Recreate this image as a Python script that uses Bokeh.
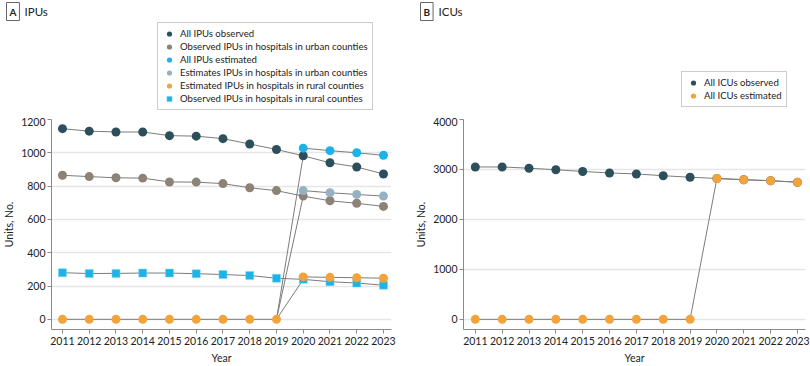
from bokeh.plotting import figure
from bokeh.layouts import row, column
from bokeh.models import Legend, LegendItem, Label, FixedTicker, Range1d
from bokeh.embed import file_html
from bokeh.resources import INLINE

FONT = "Lato"
NAN = float("nan")

years = list(range(2011, 2024))
pre_years = years[:9]
est_years = years[9:]

# Panel A: IPUs
ipu_all_obs = [1145, 1130, 1125, 1125, 1103, 1100, 1085, 1053, 1020, 982, 940, 915, 873]
ipu_urban_obs = [865, 857, 850, 848, 825, 824, 815, 790, 773, 740, 712, 697, 678]
ipu_rural_obs = [280, 275, 276, 278, 278, 274, 269, 263, 247, 240, 226, 218, 205]
ipu_est_pre = [0, 0, 0, 0, 0, 0, 0, 0, 0]
ipu_all_est = [1028, 1013, 1000, 985]
ipu_urban_est = [773, 760, 750, 740]
ipu_rural_est = [255, 252, 250, 247]

# Panel B: ICUs
icu_obs = [3050, 3050, 3025, 2995, 2960, 2930, 2910, 2875, 2845, 2820, 2795, 2775, 2745]
icu_est = [0, 0, 0, 0, 0, 0, 0, 0, 0, 2820, 2795, 2775, 2745]

ipu_ticks = [0, 200, 400, 600, 800, 1000, 1200]
icu_ticks = [0, 1000, 2000, 3000, 4000]

C_DARK = "#2d4f5c"
C_BROWN = "#8d8276"
C_CYAN = "#1cb4e8"
C_GRAYBLUE = "#95b2c3"
C_ORANGE = "#f2a33a"
C_LINE = "#7c7c7c"
C_TEXT = "#222222"

HEAD_H = 117
CHART_H = 366 - HEAD_H


def style(p, ticks):
    p.xaxis.ticker = FixedTicker(ticks=years)
    p.yaxis.ticker = FixedTicker(ticks=ticks)
    p.xgrid.visible = False
    p.ygrid.grid_line_color = "#e6e6e6"
    p.ygrid.grid_line_width = 1.5
    for ax in (p.xaxis[0], p.yaxis[0]):
        ax.axis_line_color = "#8a8a8a"
        ax.major_tick_line_color = "#8a8a8a"
        ax.major_tick_out = 4
        ax.major_tick_in = 0
        ax.minor_tick_line_color = None
        ax.major_label_text_font = FONT
        ax.major_label_text_font_size = "10.5px"
        ax.major_label_text_color = C_TEXT
        ax.axis_label_text_font = FONT
        ax.axis_label_text_font_size = "10.5px"
        ax.axis_label_text_font_style = "normal"
        ax.axis_label_text_color = C_TEXT
    p.xaxis.major_label_standoff = 3
    p.xaxis.axis_label_standoff = 4
    p.yaxis.major_label_standoff = 2
    p.yaxis.axis_label_standoff = 3
    p.xaxis.axis_label = "Year"
    p.yaxis.axis_label = "Units, No."
    p.outline_line_color = None


def header(width):
    h = figure(width=width, height=HEAD_H, output_backend="svg", toolbar_location=None,
               x_range=Range1d(0, width), y_range=Range1d(0, HEAD_H),
               x_axis_location=None, y_axis_location=None, frame_align=False,
               min_border_left=0, min_border_right=0, min_border_top=0, min_border_bottom=0)
    h.grid.visible = False
    h.outline_line_color = None
    return h


def panel_label(h, letter, title, x_box, y):
    h.add_layout(Label(x=x_box, y=y, text=letter,
                       text_font=FONT, text_font_size="10px", text_font_style="bold",
                       text_baseline="middle", text_color=C_TEXT,
                       border_line_color="#666666", background_fill_color="white",
                       padding=3))
    h.add_layout(Label(x=x_box + 18, y=y, text=title,
                       text_font=FONT, text_font_size="11.5px",
                       text_baseline="middle", text_color=C_TEXT))


def style_legend(leg):
    leg.label_text_font = FONT
    leg.label_text_font_size = "9.6px"
    leg.label_text_color = C_TEXT
    leg.label_height = 13
    leg.glyph_height = 13
    leg.glyph_width = 14
    leg.label_standoff = 4
    leg.spacing = 0
    leg.padding = 4
    leg.margin = 0
    leg.border_line_color = "#9a9a9a"
    leg.border_line_width = 1
    leg.background_fill_alpha = 1


# ---------- Panel A ----------
ha = header(400)
pa = figure(width=400, height=CHART_H, output_backend="svg", toolbar_location=None,
            x_range=Range1d(2010.59, 2023.3), y_range=Range1d(-61, 1200), frame_align=False,
            min_border_left=49, min_border_right=9, min_border_top=2, min_border_bottom=30)
style(pa, ipu_ticks)

for ys in (ipu_all_obs, ipu_urban_obs, ipu_rural_obs):
    pa.line(years, ys, line_color=C_LINE, line_width=1)
    pa.line([pre_years[-1], est_years[0]], [ipu_est_pre[-1], ys[9]], line_color=C_LINE, line_width=1)
for ys in (ipu_all_est, ipu_urban_est, ipu_rural_est):
    pa.line(est_years, ys, line_color=C_LINE, line_width=1)
pa.line(pre_years, ipu_est_pre, line_color=C_LINE, line_width=1)

sq_style = dict(marker="square", size=8, fill_color=C_CYAN, line_color="#7fd3f2", line_width=0.5)
dark_style = dict(size=9, fill_color=C_DARK, line_color=None)
brown_style = dict(size=9, fill_color=C_BROWN, line_color=None)
cyan_style = dict(size=9, fill_color=C_CYAN, line_color=None)
gb_style = dict(size=9, fill_color=C_GRAYBLUE, line_color=None)
or_style = dict(size=9, fill_color=C_ORANGE, line_color=None)

pa.scatter(years, ipu_rural_obs, **sq_style)
pa.scatter(years, ipu_all_obs, **dark_style)
pa.scatter(years, ipu_urban_obs, **brown_style)
pa.scatter(est_years, ipu_all_est, **cyan_style)
pa.scatter(est_years, ipu_urban_est, **gb_style)
pa.scatter(pre_years + est_years, ipu_est_pre + ipu_rural_est, **or_style)

# legend proxies in the header (NaN data: nothing is drawn except the legend swatch)
la = [ha.scatter([NAN], [NAN], **s) for s in (dark_style, brown_style, cyan_style, gb_style, or_style, sq_style)]
labels_a = ["All IPUs observed",
            "Observed IPUs in hospitals in urban counties",
            "All IPUs estimated",
            "Estimates IPUs in hospitals in urban counties",
            "Estimated IPUs in hospitals in rural counties",
            "Observed IPUs in hospitals in rural counties"]
leg_a = Legend(items=[LegendItem(label=t, renderers=[r]) for t, r in zip(labels_a, la)],
               location=(157, 7))
style_legend(leg_a)
ha.add_layout(leg_a)
panel_label(ha, "A", "IPUs", 6, 106)

# ---------- Panel B ----------
hb = header(410)
pb = figure(width=410, height=CHART_H, output_backend="svg", toolbar_location=None,
            x_range=Range1d(2010.56, 2023.3), y_range=Range1d(-203, 4000), frame_align=False,
            min_border_left=63, min_border_right=5, min_border_top=2, min_border_bottom=30)
style(pb, icu_ticks)

pb.line(years, icu_obs, line_color=C_LINE, line_width=1)
pb.line(years, icu_est, line_color=C_LINE, line_width=1)
pb.scatter(years, icu_obs, **dark_style)
pb.scatter(years, icu_est, **or_style)

lb = [hb.scatter([NAN], [NAN], **s) for s in (dark_style, or_style)]
leg_b = Legend(items=[LegendItem(label="All ICUs observed", renderers=[lb[0]]),
                      LegendItem(label="All ICUs estimated", renderers=[lb[1]])],
               location=(281, 10))
style_legend(leg_b)
hb.add_layout(leg_b)
panel_label(hb, "B", "ICUs", 20, 106)

layout = row(column(ha, pa), column(hb, pb))
open("out.html", "w").write(file_html(layout, INLINE))
